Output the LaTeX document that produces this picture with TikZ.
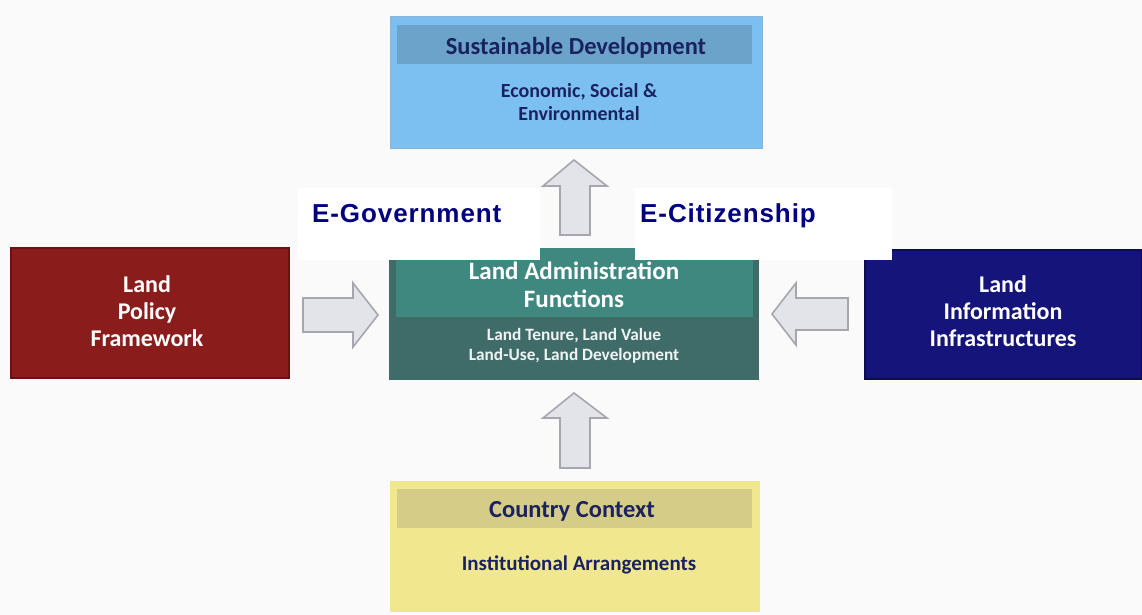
\documentclass[tikz,border=0pt]{standalone}
\usepackage{fontspec}
\setmainfont{Carlito}
\newfontfamily\egfont[LetterSpace=3.5]{Liberation Sans}
\definecolor{bgc}{HTML}{FAFAFA}
\definecolor{sdout}{HTML}{7CC0F2}
\definecolor{sdhead}{HTML}{6BA3CB}
\definecolor{navytxt}{HTML}{1B2260}
\definecolor{laout}{HTML}{3F6C68}
\definecolor{lahead}{HTML}{3F887F}
\definecolor{lpf}{HTML}{8B1C1C}
\definecolor{lpfborder}{HTML}{6A1212}
\definecolor{lii}{HTML}{14147A}
\definecolor{liiborder}{HTML}{0C0C55}
\definecolor{ccout}{HTML}{F1E78E}
\definecolor{cchead}{HTML}{D5CC88}
\definecolor{arrfill}{HTML}{E3E3EA}
\definecolor{arrdraw}{HTML}{A6A6AE}
\definecolor{egov}{HTML}{000080}
\tikzset{
  boxshape/.style={rectangle, inner sep=0pt, anchor=north west},
  titletext/.style={font=\bfseries\fontsize{24.5}{28}\selectfont, align=center, inner sep=0pt},
  subtext/.style={font=\bfseries\fontsize{20}{23}\selectfont, align=center, inner sep=0pt},
  sidetext/.style={font=\bfseries\fontsize{24}{27}\selectfont, align=center, inner sep=0pt, text=white},
  whitebox/.style={rectangle, inner sep=0pt, anchor=north west, fill=white},
  elabel/.style={font=\egfont\bfseries\fontsize{26}{30}\selectfont, text=egov, inner sep=0pt, anchor=base west},
  blockarrow/.style={fill=arrfill, draw=arrdraw, line width=1.6pt, line join=miter},
}
\begin{document}
\begin{tikzpicture}[x=1pt,y=-1pt]
\useasboundingbox (0,0) rectangle (1142,615);
\fill[bgc] (0,0) rectangle (1142,615);

% Sustainable Development
\node[boxshape, fill=sdout, draw=sdhead!80, line width=0.6pt, minimum width=372pt, minimum height=132pt] (sd) at (390,16) {};
\node[boxshape, fill=sdhead, minimum width=355pt, minimum height=39pt] (sdh) at (397,25) {};
\node[titletext, text=navytxt] (sdt) at (576,48) {Sustainable Development};
\node[subtext, text=navytxt] (sds) at (579,102) {Economic, Social \&\\Environmental};

% Land Administration Functions
\node[boxshape, fill=laout, minimum width=370pt, minimum height=132pt] (la) at (389,248) {};
\node[boxshape, fill=lahead, minimum width=357pt, minimum height=69pt] (lah) at (396,248) {};
\node[titletext, text=white, font=\bfseries\fontsize{25}{28}\selectfont] (lat) at (574,285) {Land Administration\\Functions};
\node[subtext, text=white!92!laout, font=\bfseries\fontsize{17.3}{20}\selectfont] (las) at (574,346) {Land Tenure, Land Value\\Land-Use, Land Development};

% Land Policy Framework
\node[boxshape, fill=lpf, draw=lpfborder, line width=2pt, minimum width=278pt, minimum height=130pt] (lpfbox) at (10,247) {};
\node[sidetext] (lpft) at (147,311) {Land\\Policy\\Framework};

% Land Information Infrastructures
\node[boxshape, fill=lii, draw=liiborder, line width=2pt, minimum width=277pt, minimum height=129pt] (liibox) at (864,249) {};
\node[sidetext] (liit) at (1003,311) {Land\\Information\\Infrastructures};

% Country Context
\node[boxshape, fill=ccout, minimum width=370pt, minimum height=131pt] (cc) at (390,481) {};
\node[boxshape, fill=cchead, minimum width=355pt, minimum height=39pt] (cch) at (397,489) {};
\node[titletext, text=navytxt] (cct) at (572,511) {Country Context};
\node[subtext, text=navytxt, font=\bfseries\fontsize{21}{24}\selectfont] (ccs) at (579,565) {Institutional Arrangements};

% E-Government / E-Citizenship labels
\node[whitebox, minimum width=242pt, minimum height=72pt] (egovbox) at (298,188) {};
\node[elabel] (egov) at (312,222) {E-Government};
\node[whitebox, minimum width=257pt, minimum height=72pt] (ecitbox) at (635,188) {};
\node[elabel] (ecit) at (640,222) {E-Citizenship};

% Block arrows
\draw[blockarrow] (560,235) -- (560,186) -- (543,186) -- (574,160) -- (607,186) -- (590,186) -- (590,235) -- cycle;
\draw[blockarrow] (560,468) -- (560,418) -- (543,418) -- (574,393) -- (607,418) -- (590,418) -- (590,468) -- cycle;
\draw[blockarrow] (303,298) -- (353,298) -- (353,283) -- (378,315) -- (353,347) -- (353,332) -- (303,332) -- cycle;
\draw[blockarrow] (848,298) -- (796,298) -- (796,283) -- (772,314) -- (796,345) -- (796,330) -- (848,330) -- cycle;
\end{tikzpicture}
\end{document}
